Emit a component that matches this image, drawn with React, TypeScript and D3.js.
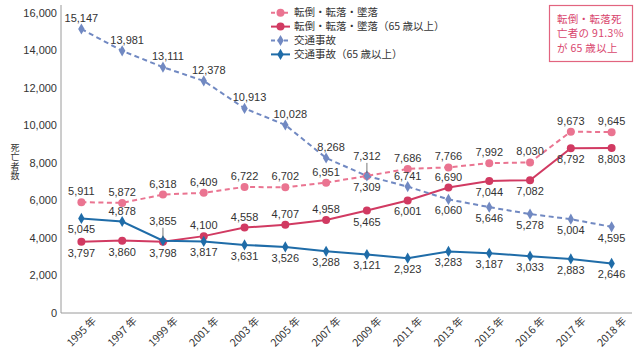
import * as d3 from "d3";
import React from "react";

const years = ["1995", "1997", "1999", "2001", "2003", "2005", "2007", "2009", "2011", "2013", "2015", "2016", "2017", "2018"];
const fallAll = [5911, 5872, 6318, 6409, 6722, 6702, 6951, 7312, 7686, 7766, 7992, 8030, 9673, 9645];
const fallOld = [3797, 3860, 3798, 4100, 4558, 4707, 4958, 5465, 6001, 6690, 7044, 7082, 8792, 8803];
const trafficAll = [15147, 13981, 13111, 12378, 10913, 10028, 8268, 7309, 6741, 6060, 5646, 5278, 5004, 4595];
const trafficOld = [5045, 4878, 3855, 3817, 3631, 3526, 3288, 3121, 2923, 3283, 3187, 3033, 2883, 2646];
const yTicks = [0, 2000, 4000, 6000, 8000, 10000, 12000, 14000, 16000];

// label placement: u = above, r = above-right, d = below, L = above with leader line
const fallAllPos = "uuuuuuuLuuuuuu".split("");
const fallOldPos = "ddduuuuddudddd".split("");
const trafficAllPos = "urrrrrrduddddd".split("");
const trafficOldPos = "duLddddddddddd".split("");

const W = 640, H = 351;
const left = 61, right = 632, top = 13, bottom = 313;
const jp = "'Noto Sans CJK JP', 'Noto Sans', sans-serif";
const num = "'Liberation Sans', Arial, sans-serif";

const x = d3.scalePoint<string>().domain(years).range([left, right]).padding(0.5);
const y = d3.scaleLinear().domain([0, 16000]).range([bottom, top]);
const fmt = d3.format(",");

type Series = { name: string; values: number[]; pos: string[]; color: string; dash?: string; marker: "circle" | "diamond"; size: number };

const series: Series[] = [
  { name: "転倒・転落・墜落", values: fallAll, pos: fallAllPos, color: "#ea7491", dash: "5,3.5", marker: "circle", size: 4 },
  { name: "転倒・転落・墜落（65 歳以上）", values: fallOld, pos: fallOldPos, color: "#d13a62", marker: "circle", size: 4 },
  { name: "交通事故", values: trafficAll, pos: trafficAllPos, color: "#7189c2", dash: "5,3.5", marker: "diamond", size: 36 },
  { name: "交通事故（65 歳以上）", values: trafficOld, pos: trafficOldPos, color: "#1f6ca8", marker: "diamond", size: 36 },
];

const diamond = (s: number) => d3.symbol().type(d3.symbolDiamond).size(s)() as string;

const Marker = ({ s, cx, cy }: { s: Series; cx: number; cy: number }) =>
  s.marker === "circle"
    ? <circle cx={cx} cy={cy} r={s.size} fill={s.color} />
    : <path d={diamond(s.size)} transform={`translate(${cx},${cy})`} fill={s.color} />;

export default function App() {
  const line = d3.line<number>().x((_, i) => x(years[i]) as number).y(d => y(d));

  return (
    <svg width={W} height={H} style={{ position: "absolute", left: 0, top: 0, background: "#fff" }}>
      {/* axes */}
      <line x1={left} x2={left} y1={5} y2={bottom} stroke="#9a9a9a" strokeWidth={1} />
      <line x1={left} x2={right} y1={bottom} y2={bottom} stroke="#9a9a9a" strokeWidth={1} />
      {yTicks.map(t => (
        <text key={t} x={57} y={y(t)} dy="0.35em" textAnchor="end" fontSize={11} fontFamily={num} fill="#333">{fmt(t)}</text>
      ))}
      {years.map(yr => (
        <text key={yr} transform={`translate(${(x(yr) as number) + 13},${bottom + 6}) rotate(-45)`} dy="0.35em" textAnchor="end" fontSize={10.5} fontFamily={jp} fill="#333">{yr + " 年"}</text>
      ))}
      <text x={15} y={143} style={{ writingMode: "vertical-rl" }} fontSize={9} letterSpacing={0.5} fontFamily={jp} fill="#333">死亡者数</text>

      {/* series */}
      {series.map(s => (
        <g key={s.name}>
          <path d={line(s.values) as string} fill="none" stroke={s.color} strokeWidth={2} strokeDasharray={s.dash} />
          {s.values.map((v, i) => <Marker key={i} s={s} cx={x(years[i]) as number} cy={y(v)} />)}
        </g>
      ))}

      {/* data labels */}
      {series.map(s => s.values.map((v, i) => {
        const cx = x(years[i]) as number, cy = y(v);
        const p = s.pos[i];
        const ly = p === "d" ? cy + 15 : p === "L" ? cy - 16 : cy - 7;
        const lx = p === "r" ? cx + 5 : cx;
        return (
          <g key={s.name + i}>
            {p === "L" && <line x1={cx} x2={cx} y1={cy - 13} y2={cy - 3} stroke="#555" strokeWidth={0.8} />}
            <text x={lx} y={ly} textAnchor="middle" fontSize={11} fontFamily={num} fill="#333">{fmt(v)}</text>
          </g>
        );
      }))}

      {/* legend */}
      {series.map((s, i) => {
        const ly = 12.7 + i * 13.9;
        return (
          <g key={"lg" + s.name}>
            <line x1={271} x2={290} y1={ly} y2={ly} stroke={s.color} strokeWidth={2} strokeDasharray={s.dash ? "4,2.5" : undefined} />
            <Marker s={s} cx={280.5} cy={ly} />
            <text x={294} y={ly} dy="0.35em" fontSize={10.5} fontFamily={jp} fill="#333">{s.name}</text>
          </g>
        );
      })}

      {/* annotation */}
      <rect x={549.5} y={5.5} width={83} height={56} fill="#fff" stroke="#e2647f" strokeWidth={1.2} />
      {["転倒・転落死", "亡者の 91.3%", "が 65 歳以上"].map((t, i) => (
        <text key={i} x={557} y={19 + i * 14.8} dy="0.35em" fontSize={10.5} letterSpacing={0.3} fontFamily={jp} fill="#d9466e">{t}</text>
      ))}
    </svg>
  );
}
